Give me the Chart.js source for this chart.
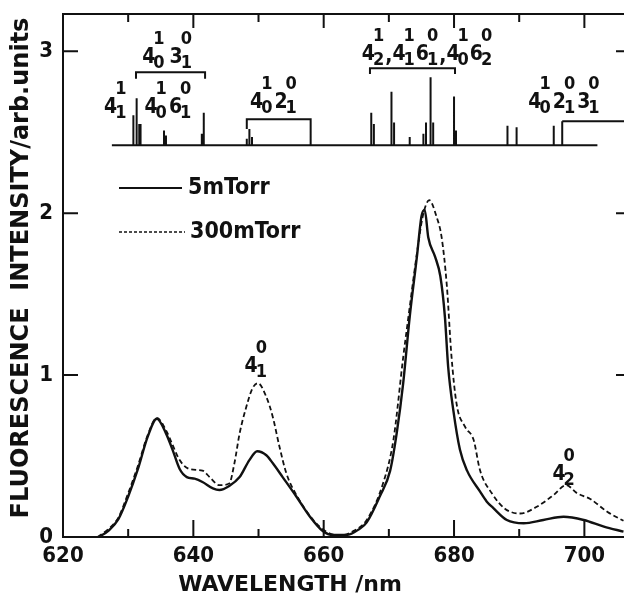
<!DOCTYPE html>
<html>
<head>
<meta charset="utf-8">
<script src="https://cdn.jsdelivr.net/npm/chart.js@4.4.1/dist/chart.umd.min.js"></script>
<style>
  html, body { margin: 0; padding: 0; background: #fff; overflow: hidden; }
  canvas { display: block; }
</style>
</head>
<body>
<canvas id="spec" width="632" height="599"></canvas>
<script>
// emission spectra, wavelength in nm / intensity in arb. units
const solidNm = [625.5, 627.0, 628.5, 630.0, 631.5, 633.0, 634.4, 635.8, 636.8, 637.9, 639.0, 640.2, 641.4, 643.0, 644.0, 645.5, 647.1, 648.6, 649.8, 651.2, 652.2, 653.7, 655.8, 657.9, 659.9, 661.4, 663.5, 665.5, 666.6, 668.6, 670.2, 671.2, 672.2, 673.2, 674.3, 675.0, 675.5, 676.05, 677.1, 677.9, 678.6, 679.1, 679.9, 680.9, 682.0, 684.0, 685.0, 686.0, 688.1, 690.7, 693.7, 696.8, 699.9, 703.0, 706.0];
const solidVal = [0, 0.04, 0.11, 0.25, 0.42, 0.62, 0.73, 0.64, 0.54, 0.42, 0.37, 0.36, 0.34, 0.30, 0.29, 0.315, 0.37, 0.475, 0.53, 0.505, 0.455, 0.37, 0.25, 0.125, 0.035, 0.012, 0.012, 0.05, 0.09, 0.25, 0.41, 0.64, 0.95, 1.36, 1.73, 1.98, 2.02, 1.85, 1.73, 1.61, 1.36, 1.05, 0.78, 0.54, 0.41, 0.28, 0.22, 0.18, 0.105, 0.085, 0.105, 0.125, 0.105, 0.064, 0.033];

const dashNm = [625.3, 627.0, 628.5, 630.0, 631.5, 633.0, 634.4, 635.8, 636.8, 637.9, 639.4, 641.4, 642.5, 644.0, 645.5, 646.3, 647.1, 648.1, 649.1, 649.9, 651.2, 652.2, 653.2, 654.3, 655.8, 658.4, 660.4, 662.5, 664.5, 666.6, 669.1, 670.7, 672.2, 673.2, 674.3, 675.2, 676.2, 677.3, 678.1, 678.9, 679.6, 680.4, 681.7, 683.0, 684.0, 685.8, 687.8, 690.15, 692.7, 695.3, 697.2, 698.9, 700.9, 703.5, 706.0];
const dashVal = [0, 0.05, 0.12, 0.27, 0.44, 0.63, 0.735, 0.66, 0.57, 0.475, 0.42, 0.41, 0.37, 0.32, 0.33, 0.455, 0.64, 0.80, 0.92, 0.95, 0.865, 0.74, 0.56, 0.39, 0.26, 0.105, 0.033, 0.01, 0.035, 0.105, 0.33, 0.60, 1.11, 1.42, 1.75, 1.98, 2.08, 1.98, 1.85, 1.55, 1.12, 0.82, 0.68, 0.60, 0.41, 0.27, 0.175, 0.145, 0.187, 0.26, 0.32, 0.27, 0.235, 0.156, 0.10];

// stick spectrum drawn above the curves
const stickNm  = [630.8, 631.3, 631.7, 631.9, 635.5, 635.8, 641.3, 641.6, 648.2, 648.6, 649.0, 658.0, 667.3, 667.7, 670.4, 670.8, 673.2, 675.3, 675.7, 676.4, 676.8, 680.0, 680.3, 688.2, 689.6, 695.3, 696.6];
const stickTop = [2.605, 2.71, 2.55, 2.55, 2.51, 2.48, 2.49, 2.62, 2.46, 2.52, 2.47, 2.52, 2.62, 2.55, 2.75, 2.56, 2.47, 2.49, 2.56, 2.84, 2.56, 2.72, 2.51, 2.54, 2.53, 2.54, 2.568];
const stickBase = 2.42;
const stickFrom = 627.5;
const stickTo = 702;

const bracketFrom = [631.2, 648.2, 667.1, 696.6];
const bracketTo   = [641.8, 658.0, 680.15, 707];
const bracketTop  = [2.87, 2.58, 2.895, 2.568];
const bracketFoot = [2.83, 2.52, 2.86, 2.568];

const seriesNames = ['5mTorr', '300mTorr'];
const xMin = 620, xMax = 707, yMax = 3.23;

const ink = '#111';
const tickFont = { family: 'DejaVu Sans Condensed', weight: 'bold', size: 22 };

function pts(xs, ys) {
  return xs.map((x, i) => ({ x, y: ys[i] }));
}

const stickPts = [];
stickNm.forEach((x, i) => {
  stickPts.push({ x, y: stickBase }, { x, y: stickTop[i] }, { x, y: null });
});

const bracketSets = bracketFrom.map((x0, i) => ({
  data: [
    { x: x0, y: bracketFoot[i] }, { x: x0, y: bracketTop[i] },
    { x: bracketTo[i], y: bracketTop[i] }, { x: bracketTo[i], y: bracketFoot[i] }
  ],
  borderColor: ink, borderWidth: 2, pointRadius: 0, tension: 0
}));

// transition labels: [digit, superscript, subscript]
const notes = [
  { nm: 626.3, v: 2.62, gap: 2, parts: [['4', '1', '1']] },
  { nm: 632.15, v: 2.93, gap: 5, parts: [['4', '1', '0'], ['3', '0', '1']] },
  { nm: 632.5, v: 2.62, gap: 2, parts: [['4', '1', '0'], ['6', '0', '1']] },
  { nm: 648.7, v: 2.65, gap: 2, parts: [['4', '1', '0'], ['2', '0', '1']] },
  { nm: 665.85, v: 2.945, gap: 1, parts: [['4', '1', '2'], ',', ['4', '1', '1'], ['6', '0', '1'], ',', ['4', '1', '0'], ['6', '0', '2']] },
  { nm: 691.4, v: 2.65, gap: 2, parts: [['4', '1', '0'], ['2', '0', '1'], ['3', '0', '1']] },
  { nm: 647.85, v: 1.02, gap: 2, parts: [['4', '0', '1']] },
  { nm: 695.1, v: 0.35, gap: 2, parts: [['4', '0', '2']] }
];

function drawNote(ctx, x, y, note) {
  const big = 'bold 21px "DejaVu Sans Condensed"';
  const small = 'bold 18px "DejaVu Sans Condensed"';
  ctx.textBaseline = 'alphabetic';
  ctx.textAlign = 'left';
  note.parts.forEach(p => {
    ctx.font = big;
    if (typeof p === 'string') {
      ctx.fillText(p, x, y + 2);
      x += ctx.measureText(p).width;
      return;
    }
    ctx.fillText(p[0], x, y);
    x += ctx.measureText(p[0]).width - 2;
    ctx.font = small;
    const w = Math.max(ctx.measureText(p[1]).width, ctx.measureText(p[2]).width);
    ctx.textAlign = 'center';
    ctx.fillText(p[1], x + w / 2, y - 19);
    ctx.fillText(p[2], x + w / 2, y + 5);
    ctx.textAlign = 'left';
    x += w + note.gap;
  });
}

const decor = {
  id: 'decor',
  afterDraw(chart) {
    const { ctx, chartArea: a, scales: { x, y } } = chart;
    ctx.save();
    ctx.strokeStyle = ink;
    ctx.fillStyle = ink;
    ctx.lineWidth = 2;
    ctx.strokeRect(a.left, a.top, a.right - a.left, a.bottom - a.top);

    // inward tick marks on all four sides
    ctx.beginPath();
    x.ticks.forEach(t => {
      if (t.value <= x.min || t.value >= x.max) return;
      const px = x.getPixelForValue(t.value);
      const major = t.value % 20 === 0;
      ctx.moveTo(px, a.bottom); ctx.lineTo(px, a.bottom - (major ? 17 : 8));
      ctx.moveTo(px, a.top); ctx.lineTo(px, a.top + (major ? 14 : 8));
    });
    y.ticks.forEach(t => {
      const py = y.getPixelForValue(t.value);
      if (t.value > 0) { ctx.moveTo(a.left, py); ctx.lineTo(a.left + 15, py); }
      ctx.moveTo(a.right, py); ctx.lineTo(a.right - 14, py);
    });
    ctx.stroke();

    // axis titles
    ctx.font = 'bold 24px "DejaVu Sans"';
    ctx.textAlign = 'center';
    ctx.textBaseline = 'middle';
    ctx.save();
    ctx.translate(22, 268);
    ctx.rotate(-Math.PI / 2);
    ctx.fillText('FLUORESCENCE  INTENSITY/arb.units', 0, 0);
    ctx.restore();
    ctx.font = 'bold 22px "DejaVu Sans"';
    ctx.fillText('WAVELENGTH /nm', 290, 585);

    // legend
    const ds = chart.data.datasets;
    [[188, ds[0]], [232, ds[1]]].forEach(([ly, d], i) => {
      ctx.save();
      ctx.lineWidth = i ? 1.6 : 2.2;
      ctx.setLineDash(i ? [3, 2] : []);
      ctx.beginPath();
      ctx.moveTo(119, ly); ctx.lineTo(i ? 185 : 182, ly);
      ctx.stroke();
      ctx.restore();
      ctx.font = 'bold 23px "DejaVu Sans Condensed"';
      ctx.textAlign = 'left';
      ctx.fillText(d.label, i ? 190 : 188, ly);
    });

    notes.forEach(n => drawNote(ctx, x.getPixelForValue(n.nm), y.getPixelForValue(n.v), n));
    ctx.restore();
  }
};

new Chart(document.getElementById('spec'), {
  type: 'line',
  data: {
    datasets: [
      {
        label: seriesNames[0], data: pts(solidNm, solidVal),
        borderColor: ink, borderWidth: 2.4, pointRadius: 0, cubicInterpolationMode: 'monotone'
      },
      {
        label: seriesNames[1], data: pts(dashNm, dashVal),
        borderColor: ink, borderWidth: 1.8, borderDash: [5, 3], pointRadius: 0, cubicInterpolationMode: 'monotone'
      },
      {
        data: stickPts, borderColor: ink, borderWidth: 2, pointRadius: 0, spanGaps: false, tension: 0
      },
      {
        data: [{ x: stickFrom, y: stickBase }, { x: stickTo, y: stickBase }],
        borderColor: ink, borderWidth: 2, pointRadius: 0
      },
      ...bracketSets
    ]
  },
  options: {
    responsive: false,
    animation: false,
    devicePixelRatio: 1,
    layout: { padding: { top: 14, right: 2, left: 0, bottom: 0 } },
    plugins: { legend: { display: false }, tooltip: { enabled: false } },
    scales: {
      x: {
        type: 'linear', min: xMin, max: xMax,
        grid: { display: false, drawTicks: false },
        border: { display: false },
        ticks: {
          stepSize: 10, autoSkip: false, includeBounds: false, maxRotation: 0,
          padding: 6, color: ink, font: tickFont,
          callback: v => (v % 20 === 0 ? String(v) : '')
        },
        afterFit: s => { s.height = 62; s.paddingLeft = 0; s.paddingRight = 0; }
      },
      y: {
        min: 0, max: yMax,
        grid: { display: false, drawTicks: false },
        border: { display: false },
        ticks: { stepSize: 1, includeBounds: false, padding: 10, color: ink, font: tickFont },
        afterFit: s => { s.width = 63; s.paddingTop = 0; s.paddingBottom = 0; }
      }
    }
  },
  plugins: [decor]
});
</script>
</body>
</html>
